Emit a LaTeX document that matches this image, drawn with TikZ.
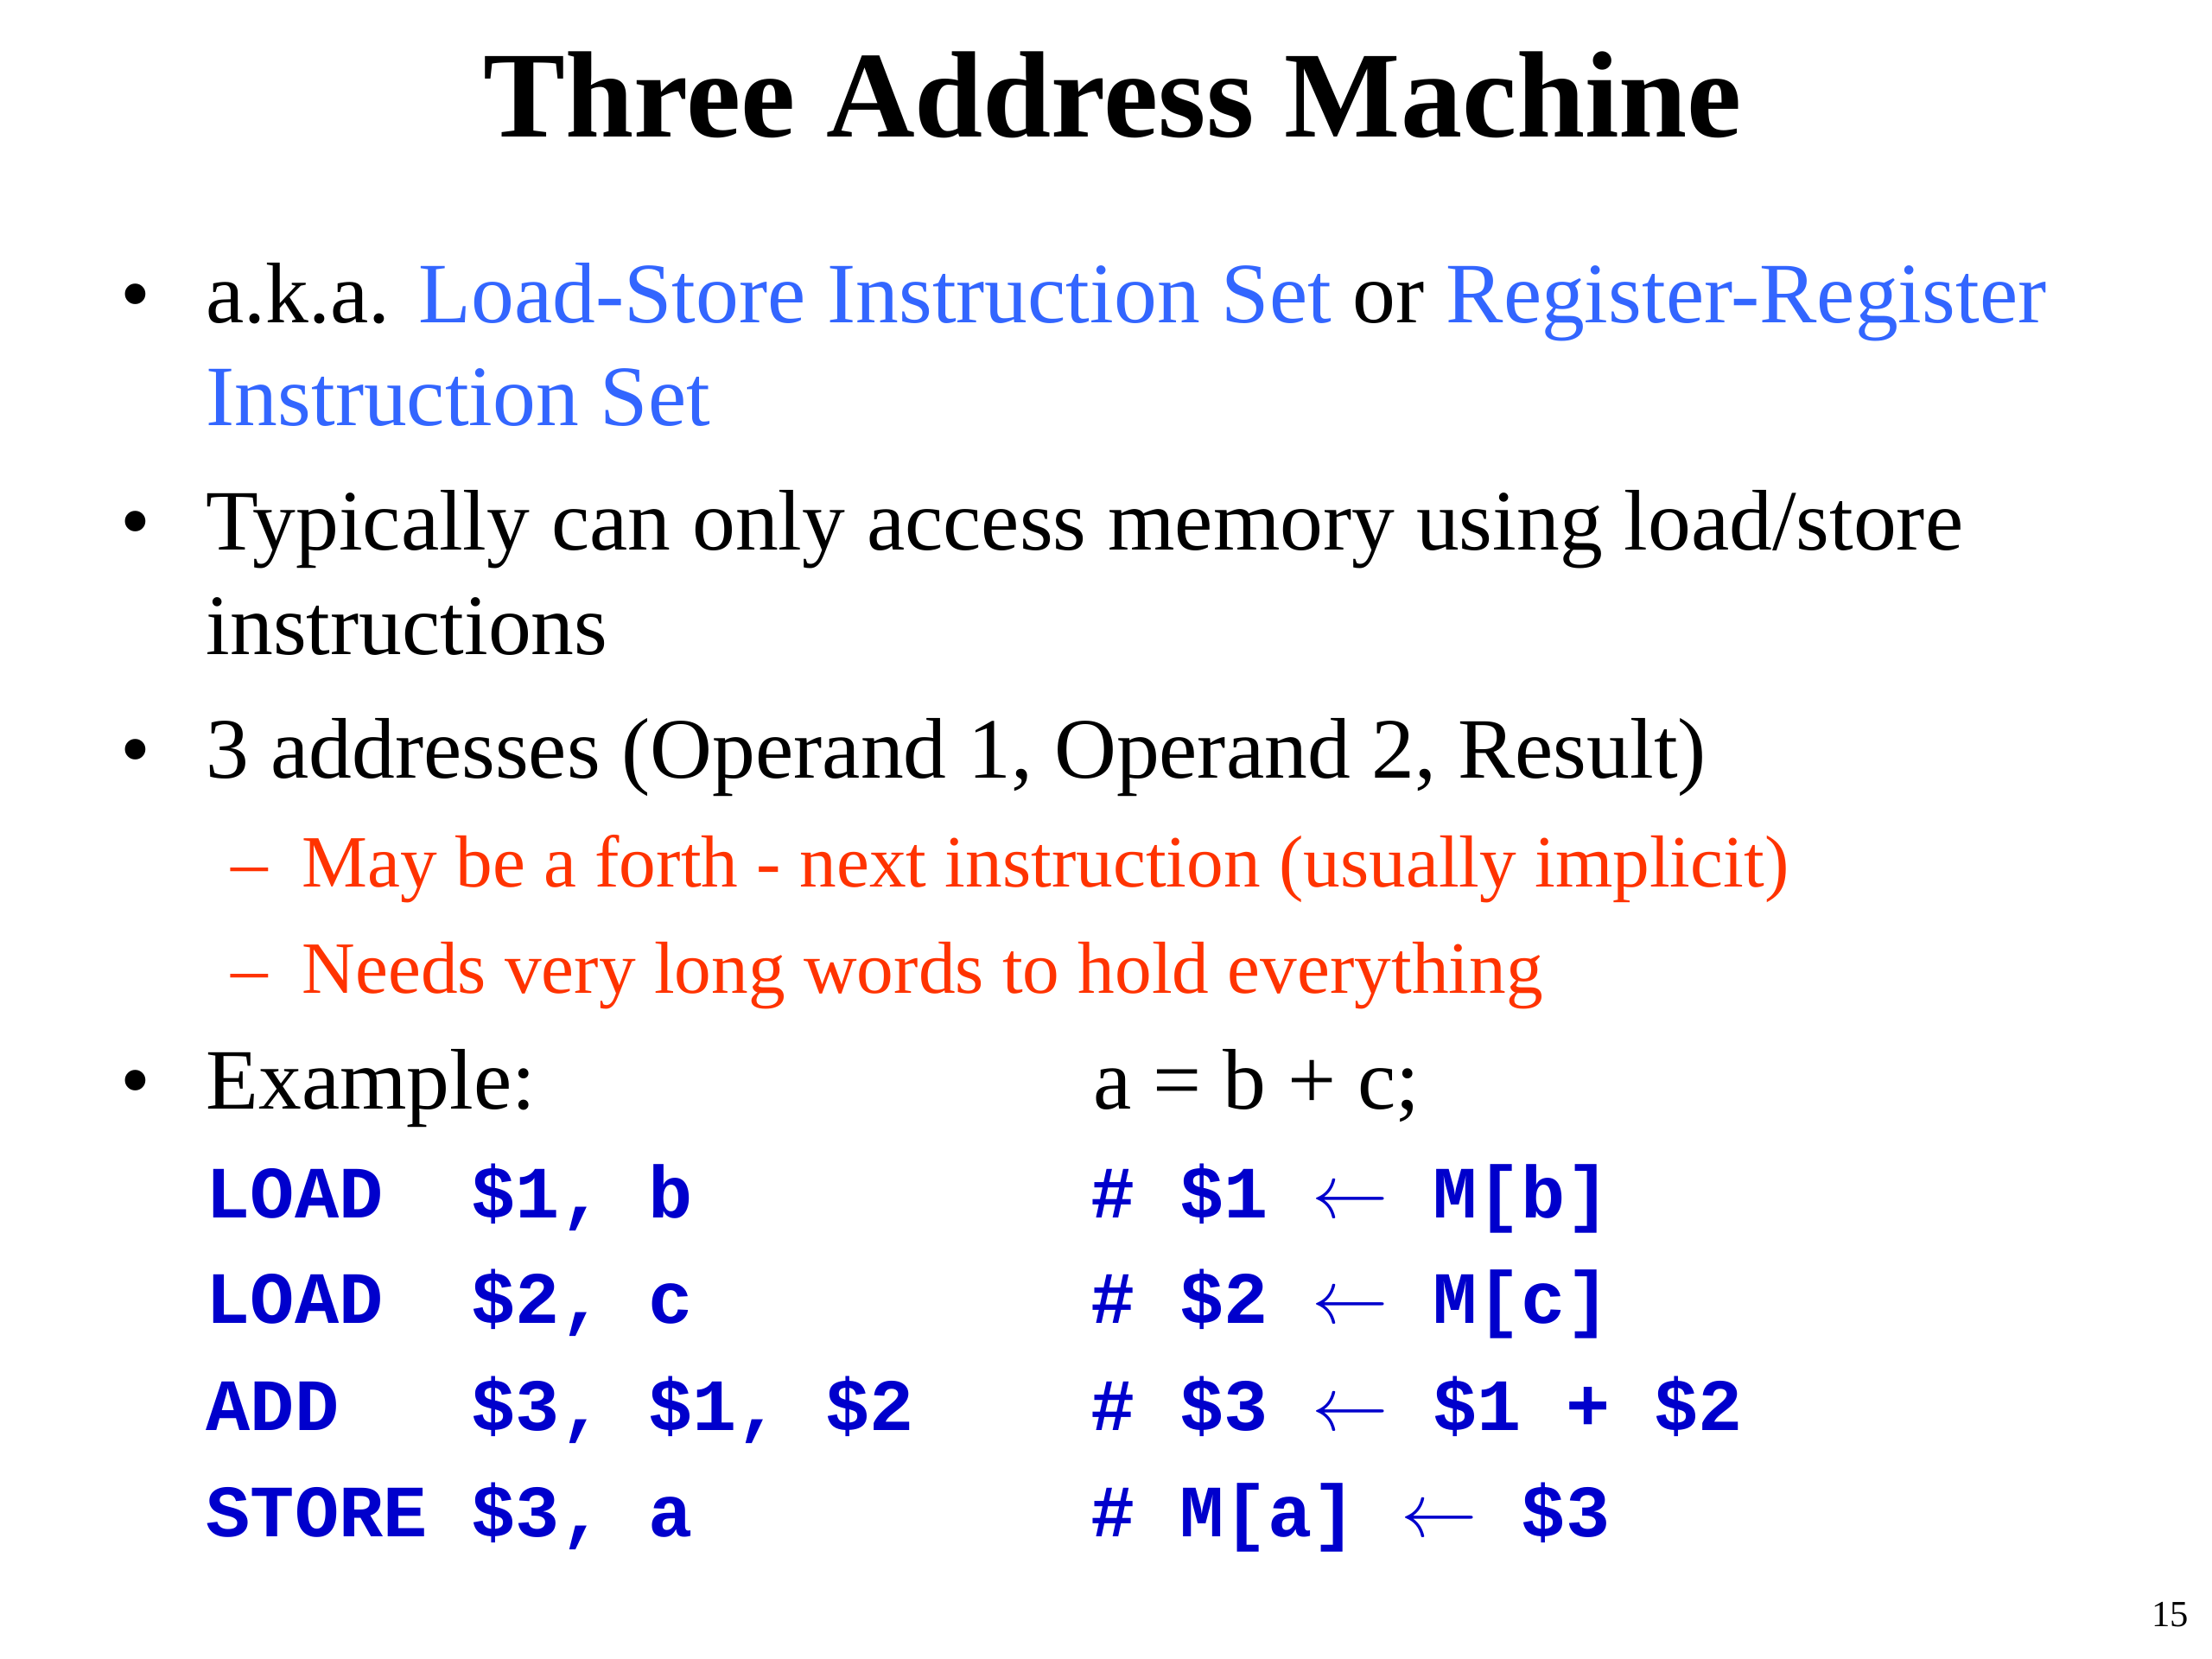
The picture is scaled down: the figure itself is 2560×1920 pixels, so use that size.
\documentclass[tikz,border=0pt]{standalone}
\usepackage{fontspec}
\setmainfont{Liberation Serif}
\setmonofont{Liberation Mono}
\usetikzlibrary{positioning}

\definecolor{termblue}{RGB}{51,102,255}
\definecolor{notered}{RGB}{255,51,0}
\definecolor{codeblue}{RGB}{0,0,204}

\tikzset{
  slidetitle/.style={anchor=base, inner sep=0pt, font=\fontsize{40}{48}\selectfont\bfseries},
  dot/.style={anchor=base, inner sep=0pt, font=\fontsize{28}{33.6}\selectfont},
  bodyline/.style={anchor=base west, inner sep=0pt, font=\fontsize{28}{33.6}\selectfont},
  subline/.style={anchor=base west, inner sep=0pt, text=notered, font=\fontsize{24}{28.8}\selectfont},
  asm/.style={anchor=base west, inner sep=0pt, text=codeblue, font=\fontsize{24}{28.8}\selectfont\ttfamily\bfseries},
}
\newcommand{\getsarrow}{\(\leftarrow\)}

\begin{document}
\begin{tikzpicture}[x=0.28125pt, y=-0.28125pt]
        \useasboundingbox (0,0) rectangle (2560,1920);

        \node at (1288,159) [slidetitle] (title) {Three Address Machine};

        % bullets
        \node at (157,374) [dot] (b1) {•};
        \node at (157,637) [dot] (b2) {•};
        \node at (157,900) [dot] (b3) {•};
        \node at (157,1283) [dot] (b4) {•};

        \node at (238,374) [bodyline] (aka) {a.k.a. \textcolor{termblue}{Load-Store Instruction Set} or \textcolor{termblue}{Register-Register}};
        \node at (238,493) [bodyline, text=termblue] (aka2) {Instruction Set};
        \node at (238,637) [bodyline] (access) {Typically can only access memory using load/store};
        \node at (238,757) [bodyline] (access2) {instructions};
        \node at (238,900) [bodyline] (addr) {3 addresses (Operand 1, Operand 2, Result)};

        \node at (267,1026) [subline] (d1) {–};
        \node at (349,1026) [subline] (forth) {May be a forth - next instruction (usually implicit)};
        \node at (267,1149) [subline] (d2) {–};
        \node at (349,1149) [subline] (words) {Needs very long words to hold everything};

        \node at (238,1283) [bodyline] (example) {Example:};
        \node at (1265,1283) [bodyline] (stmt) {a = b + c;};

        % code, three columns
        \node at (238,1409) [asm] (op1) {LOAD};
        \node at (545,1409) [asm] (arg1) {\$1, b};
        \node at (1262,1409) [asm] (rem1) {\# \$1 \getsarrow{} M[b]};

        \node at (238,1531) [asm] (op2) {LOAD};
        \node at (545,1531) [asm] (arg2) {\$2, c};
        \node at (1262,1531) [asm] (rem2) {\# \$2 \getsarrow{} M[c]};

        \node at (238,1655) [asm] (op3) {ADD};
        \node at (545,1655) [asm] (arg3) {\$3, \$1, \$2};
        \node at (1262,1655) [asm] (rem3) {\# \$3 \getsarrow{} \$1 + \$2};

        \node at (238,1778) [asm] (op4) {STORE};
        \node at (545,1778) [asm] (arg4) {\$3, a};
        \node at (1262,1778) [asm] (rem4) {\# M[a] \getsarrow{} \$3};

        \node at (2534,1882) [anchor=base east, inner sep=0pt, font=\fontsize{12}{14}\selectfont] (page) {15};

    \end{tikzpicture}
\end{document}
